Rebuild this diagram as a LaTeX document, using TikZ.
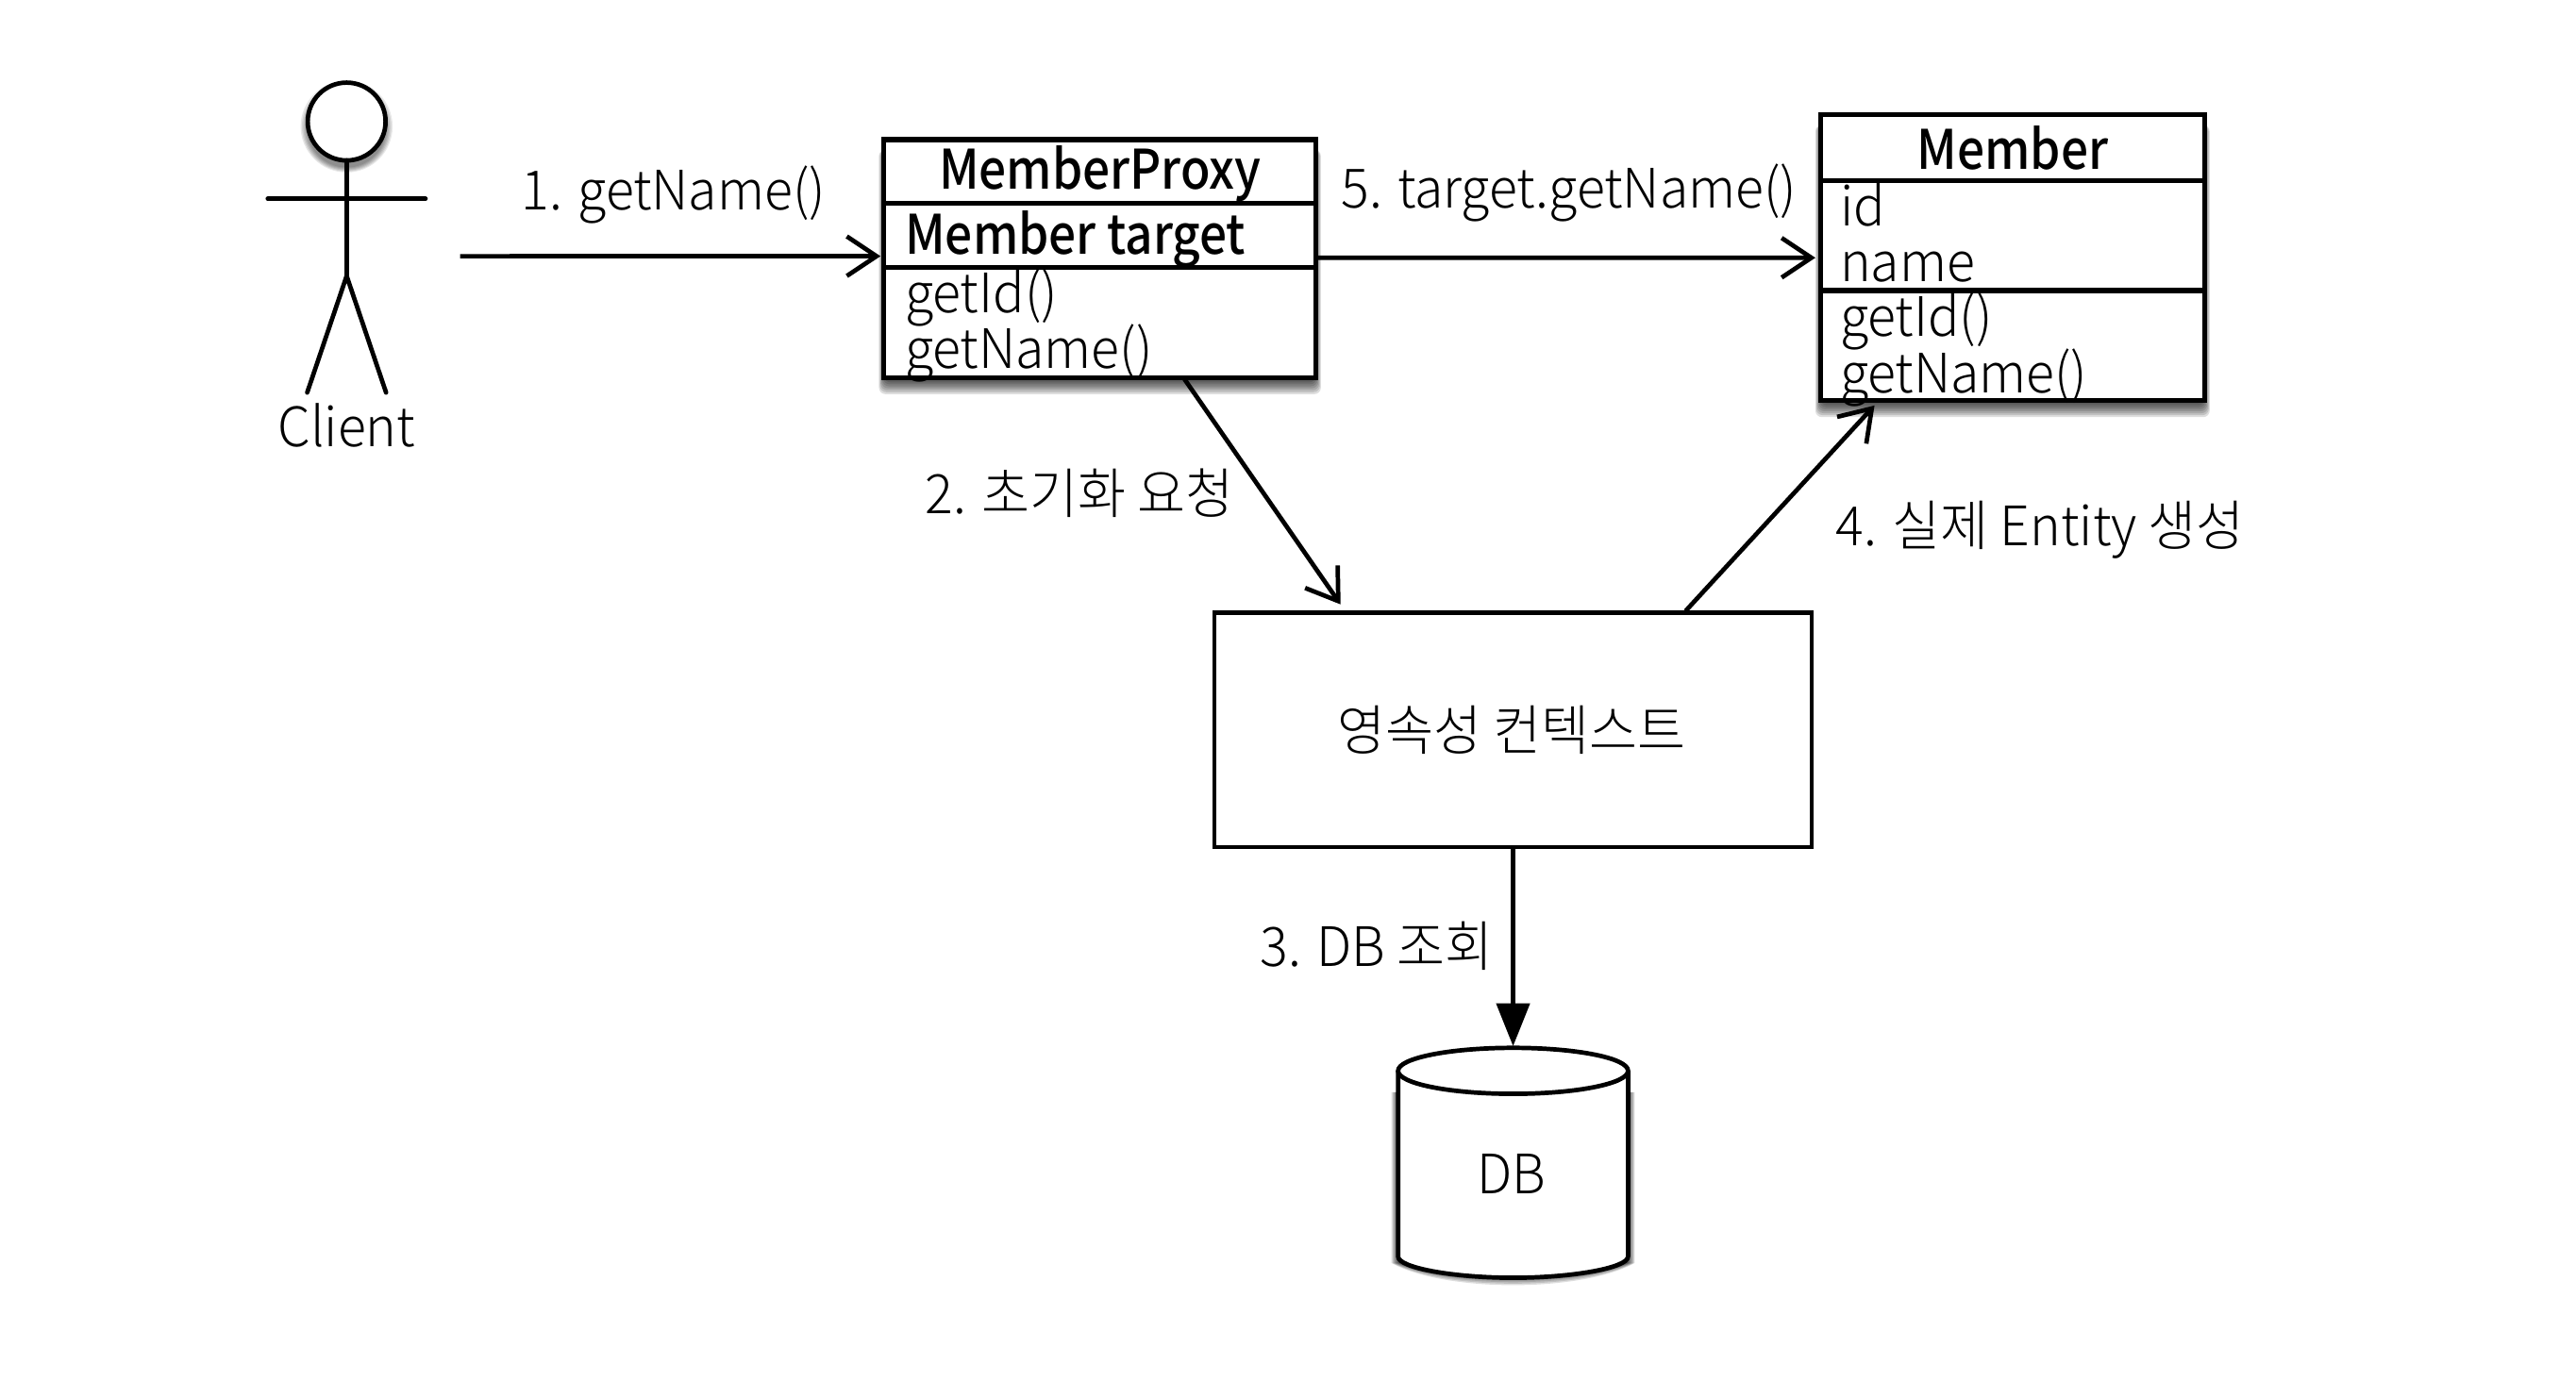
\documentclass[tikz,border=0pt]{standalone}
\usepackage{fontspec}
\setmainfont{Noto Sans CJK KR Light}[FakeStretch=0.96]
\usetikzlibrary{arrows.meta,calc,shapes.geometric}
\newfontfamily\boldkr{Noto Sans CJK KR Medium}[FakeStretch=0.89]
\tikzset{
  x=0.0175cm,y=-0.0175cm,
  ln/.style={draw=black,line width=1.35pt},
  umlbox/.style={draw=black,line width=1.45pt,fill=white,inner sep=0pt,outer sep=0pt,anchor=north west},
  lbl/.style={inner sep=0pt,outer sep=0pt,font=\fontsize{16.5}{18}\selectfont,text=black},
  bold/.style={lbl,font=\fontsize{16.5}{18}\selectfont\boldkr},
  open/.style={ln,-{Straight Barb[length=9pt,width=12pt,line width=1.35pt]}},
  solid tip/.style={ln,-{Triangle[length=13pt,width=10pt]}},
}
\newcommand{\softshadow}[4]{%
  \foreach \i in {0,...,7}{
    \fill[black,opacity=0.13,rounded corners=2pt]
      ({#1-3+\i*0.5},{#2+6}) rectangle ({#3+3-\i*0.5},{#4+10-\i*1.2});
  }}
\begin{document}
\begin{tikzpicture}
\useasboundingbox[fill=white] (0,0) rectangle (1568,840.8);
% shadows
\softshadow{538}{85}{801}{230}
\softshadow{1108}{70}{1342}{244}
\foreach \i in {0,...,7}{
  \fill[black,opacity=0.13] ({851-4+\i*0.6},665) -- ({851-4+\i*0.6},769)
    .. controls (880,{787-\i*1.2}) and (962,{787-\i*1.2}) .. ({991+4-\i*0.6},769) -- ({991+4-\i*0.6},665) -- cycle;
}
\foreach \i in {0,...,5}{
  \fill[black,opacity=0.09] (211,{77+\i*0.2}) circle ({28-\i*0.8});
}
% actor
\node[ln,circle,fill=white,minimum size=23.6pt,inner sep=0pt,outer sep=0pt] (head) at (211,74) {};
\coordinate (hip) at (211,168);
\coordinate (armL) at (163,121);
\coordinate (armR) at (259,121);
\coordinate (footL) at (187,239);
\coordinate (footR) at (235,239);
\draw[ln,line cap=round] (head.south) -- (hip);
\draw[ln,line cap=round] (armL) -- (armR);
\draw[ln,line cap=round] (footL) -- (hip) -- (footR);
\node[lbl] (client) at (211,259) {Client};
% MemberProxy
\node[umlbox,minimum width=130.9pt,minimum height=19.4pt] (pt) at (538,85) {};
\node[umlbox,minimum width=130.9pt,minimum height=19.4pt] (pf) at (538,124) {};
\node[umlbox,minimum width=130.9pt,minimum height=33.3pt] (pm) at (538,163) {};
\node[bold] (ptt) at (669.5,105.5) {MemberProxy};
\node[bold,anchor=base west] (pft) at (551,154.5) {Member target};
\node[lbl,anchor=base west] (pm1) at (551,190.5) {getId()};
\node[lbl,anchor=base west] (pm2) at (551,224.5) {getName()};
% Member
\node[umlbox,minimum width=116.5pt,minimum height=19.9pt] (mt) at (1108,70) {};
\node[umlbox,minimum width=116.5pt,minimum height=33.3pt] (mf) at (1108,110) {};
\node[umlbox,minimum width=116.5pt,minimum height=33.3pt] (mm) at (1108,177) {};
\node[bold] (mtt) at (1225,90) {Member};
\node[lbl,anchor=base west] (mf1) at (1120,137.5) {id};
\node[lbl,anchor=base west] (mf2) at (1120,171.5) {name};
\node[lbl,anchor=base west] (mm1) at (1120,205) {getId()};
\node[lbl,anchor=base west] (mm2) at (1120,239) {getName()};
% Context
\node[umlbox,line width=1.2pt,minimum width=181.2pt,minimum height=71.2pt] (ctx) at (739,373) {};
\node[lbl] (ctxt) at (920,444.5) {영속성 컨텍스트};
% DB
\node[inner sep=0pt,outer sep=0pt,minimum width=69.7pt,minimum height=69.7pt] (db) at (921,708) {};
\filldraw[ln,fill=white,line join=round] (851,652) -- (851,765)
  .. controls (851,772) and (885,778) .. (921,778)
  .. controls (957,778) and (991,772) .. (991,765) -- (991,652);
\filldraw[ln,fill=white] (921,652) ellipse [x radius=70,y radius=14];
\coordinate (dbtop) at (921,637);
\node[lbl] (dbl) at (920,715) {DB};
% connectors
\coordinate (c0) at (280,156);
\draw[open] (c0) -- ($(pf.west)+(-2,12.5)$);
\draw[open] (pf.east |- 801,157) -- ($(mf.west)+(-3,13.5)$);
\draw[open] ($(pm.south west)+(183,1)$) -- ($(ctx.north west)+(77,-5)$);
\draw[open] ($(ctx.north west)+(287,-1)$) -- ($(mm.south west)+(33,3)$);
\draw[solid tip] (ctx.south -| dbtop) -- (dbtop);
% labels
\node[lbl] (l1) at (410,118.5) {1. getName()};
\node[lbl] (l5) at (955,117.5) {5. target.getName()};
\node[lbl] (l2) at (657,300) {2. 초기화 요청};
\node[lbl] (l4) at (1242,322.5) {4. 실제 Entity 생성};
\node[lbl] (l3) at (838,576) {3. DB 조회};
\end{tikzpicture}
\end{document}
